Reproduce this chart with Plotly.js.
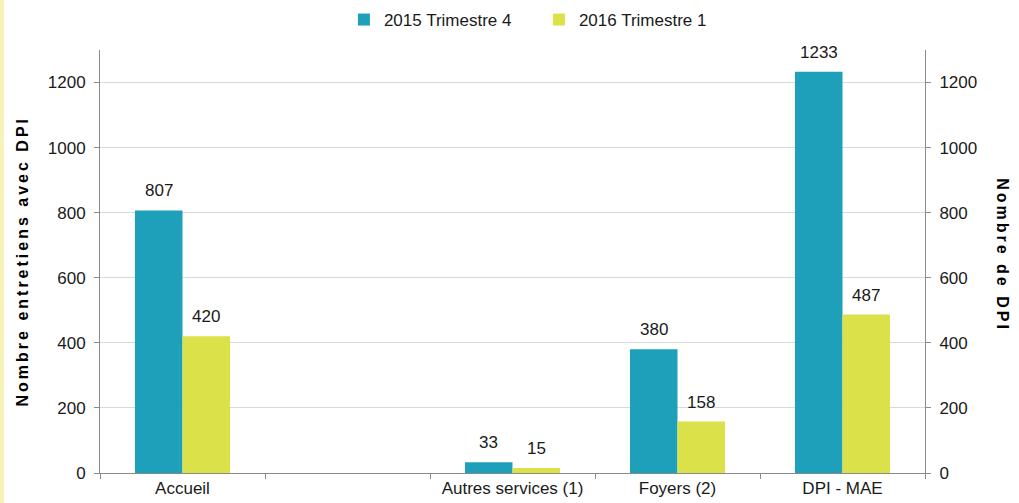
<!DOCTYPE html>
<html>
<head>
<meta charset="utf-8">
<script src="https://cdn.plot.ly/plotly-3.0.1.min.js"></script>
<style>
  html, body { margin: 0; padding: 0; background: #fff; }
  #strip { position: fixed; left: 0; top: 0; width: 4px; height: 503px; background: #f7f3b8; z-index: 10; }
</style>
</head>
<body>
<div id="strip"></div>
<div id="chart" style="width:1019px;height:503px;"></div>
<script>
const categories = ["Accueil", " ", "Autres services (1)", "Foyers (2)", "DPI - MAE"];
const seriesNames = ["2015 Trimestre 4", "2016 Trimestre 1"];
const values2015T4 = [807, null, 33, 380, 1233];
const values2016T1 = [420, null, 15, 158, 487];
const yTickVals = [0, 200, 400, 600, 800, 1000, 1200];
const leftTitle = "Nombre entretiens avec DPI";
const rightTitle = "Nombre de DPI";

const colors = ["#1fa0ba", "#dbe149"];
const FONT = "Arial, 'Liberation Sans', sans-serif";
const FS = 17;
const seriesValues = [values2015T4, values2016T1];

const traces = seriesValues.map((vals, i) => ({
  type: "bar",
  name: seriesNames[i],
  x: categories,
  y: vals,
  marker: { color: colors[i] },
  hoverinfo: "skip"
}));
// helper trace so the right-hand axis is drawn (no visible marks)
traces.push({
  type: "scatter", mode: "none", x: categories, y: values2015T4,
  yaxis: "y2", showlegend: false, hoverinfo: "skip"
});

const margin = { l: 100, r: 94, t: 50, b: 30 };
const plotW = 1019 - margin.l - margin.r;
const bargap = 0.424;
const catW = plotW / categories.length;
const barW = catW * (1 - bargap) / 2;

const annotations = [];
seriesValues.forEach((vals, i) => {
  vals.forEach((v, j) => {
    if (v === null) return;
    annotations.push({
      x: categories[j], y: v, xref: "x", yref: "y",
      text: String(v), showarrow: false,
      xanchor: "center", yanchor: "bottom",
      xshift: (i === 0 ? -1 : 1) * barW / 2, yshift: 8,
      font: { family: FONT, size: FS, color: "#1a1a1a" }
    });
  });
});
annotations.push({
  xref: "paper", yref: "paper", x: (22 - margin.l) / plotW, y: 0.5,
  text: '<span style="letter-spacing:3px">' + leftTitle + '</span>',
  textangle: -90, showarrow: false, xanchor: "center", yanchor: "middle",
  font: { family: FONT, size: 16, color: "#000", weight: "bold" }
});
annotations.push({
  xref: "paper", yref: "paper", x: 1 + (1003 - (1019 - margin.r)) / plotW, y: 0.515,
  text: '<span style="letter-spacing:3px">' + rightTitle + '</span>',
  textangle: 90, showarrow: false, xanchor: "center", yanchor: "middle",
  font: { family: FONT, size: 16, color: "#000", weight: "bold" }
});

const yAxisCommon = {
  range: [0, 1300], tickvals: yTickVals, ticks: "outside", ticklen: 5,
  tickcolor: "#8a8a8a", showline: true, linecolor: "#8a8a8a", linewidth: 1,
  zeroline: false, tickfont: { family: FONT, size: FS, color: "#1a1a1a" },
  ticklabelstandoff: 5, fixedrange: true, automargin: false
};

const layout = {
  width: 1019, height: 503,
  margin: margin,
  paper_bgcolor: "#ffffff", plot_bgcolor: "#ffffff",
  barmode: "group", bargap: bargap, bargroupgap: 0,
  font: { family: FONT, size: FS, color: "#1a1a1a" },
  showlegend: true,
  legend: {
    orientation: "h", x: 0.532, xanchor: "center",
    yref: "container", y: 1 - 20 / 503, yanchor: "middle",
    font: { family: FONT, size: FS, color: "#1a1a1a" },
    entrywidth: 150, entrywidthmode: "pixels", itemsizing: "constant"
  },
  xaxis: {
    type: "category", categoryorder: "array", categoryarray: categories,
    tickson: "boundaries", ticks: "outside", ticklen: 5, tickcolor: "#8a8a8a",
    showline: true, linecolor: "#8a8a8a", linewidth: 1, showgrid: false,
    tickfont: { family: FONT, size: FS, color: "#1a1a1a" }, fixedrange: true,
    automargin: false
  },
  yaxis: Object.assign({}, yAxisCommon, { showgrid: true, gridcolor: "#d9d9d9", gridwidth: 1 }),
  yaxis2: Object.assign({}, yAxisCommon, { overlaying: "y", side: "right", showgrid: false }),
  annotations: annotations
};

Plotly.newPlot("chart", traces, layout, { displayModeBar: false, staticPlot: true });
</script>
</body>
</html>
